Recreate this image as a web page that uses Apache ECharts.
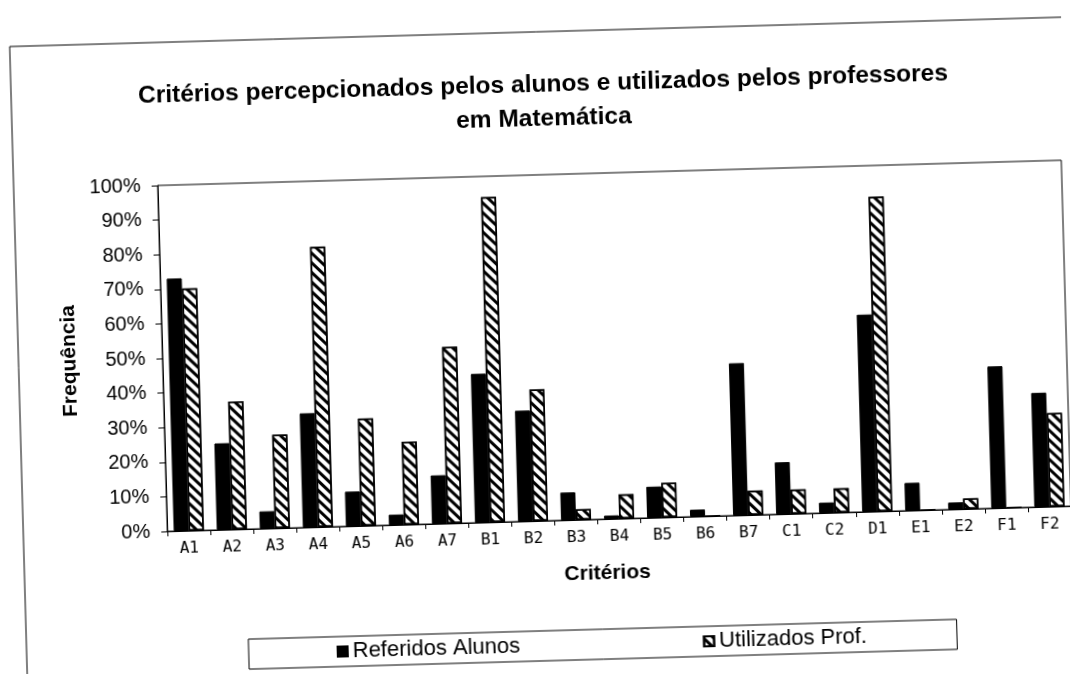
<!DOCTYPE html>
<html>
<head>
<meta charset="utf-8">
<script src="https://cdn.jsdelivr.net/npm/echarts@6/dist/echarts.min.js"></script>
<style>
  html, body { margin: 0; padding: 0; background: #fff; overflow: hidden; }
  /* the scanned page is slightly tilted */
  #main { width: 1070px; height: 674px; transform: rotate(-1.6deg); transform-origin: 535px 337px; }
</style>
</head>
<body>
<div id="main"></div>
<script>
const categories = ['A1','A2','A3','A4','A5','A6','A7','B1','B2','B3','B4','B5','B6','B7','C1','C2','D1','E1','E2','F1','F2'];
const referidosAlunos = [73, 25, 5, 33, 10, 3, 14, 43, 32, 8, 1, 9, 2, 44, 15, 3, 57, 8, 2, 41, 33];
const utilizadosProf = [70, 37, 27, 81, 31, 24, 51, 94, 38, 3, 7, 10, 0, 7, 7, 7, 91, 0, 3, 0, 27];
const yTicks = [0, 10, 20, 30, 40, 50, 60, 70, 80, 90, 100];

const font = 'Liberation Sans, Arial, sans-serif';

const chart = echarts.init(document.getElementById('main'));
chart.setOption({
  animation: false,
  backgroundColor: '#fff',
  title: {
    text: 'Critérios percepcionados pelos alunos e utilizados pelos professores\nem Matemática',
    left: 545,
    top: 63,
    textAlign: 'center',
    textStyle: { fontFamily: font, fontSize: 24.5, fontWeight: 'bold', color: '#000', lineHeight: 34 }
  },
  graphic: [{
    type: 'rect',
    shape: { x: 18, y: 32, width: 1200, height: 800 },
    style: { fill: 'none', stroke: '#000', lineWidth: 1 },
    silent: true
  }],
  legend: {
    left: 240,
    top: 631,
    orient: 'horizontal',
    icon: 'rect',
    itemWidth: 10,
    itemHeight: 10,
    itemGap: 183,
    padding: [4, 90, 4, 88],
    borderColor: '#000',
    borderWidth: 1,
    textStyle: { fontFamily: font, fontSize: 22, color: '#000' },
    data: ['Referidos Alunos', 'Utilizados Prof.']
  },
  grid: {
    left: 162, top: 175, width: 904, height: 346,
    show: true, borderColor: '#000', borderWidth: 1, backgroundColor: '#fff'
  },
  xAxis: {
    type: 'category',
    data: categories,
    name: 'Critérios',
    nameLocation: 'middle',
    nameGap: 44,
    nameTextStyle: { fontFamily: font, fontSize: 21, fontWeight: 'bold', color: '#000', padding: [0, 26, 0, 0] },
    axisLine: { lineStyle: { color: '#000', width: 1 } },
    axisTick: { show: true, length: 5, lineStyle: { color: '#000' } },
    axisLabel: { margin: 10, fontFamily: 'DejaVu Sans Mono, monospace', fontSize: 16, color: '#000' }
  },
  yAxis: {
    type: 'value',
    min: 0,
    max: 100,
    interval: 10,
    name: 'Frequência',
    nameLocation: 'middle',
    nameRotate: 90,
    nameGap: 82,
    nameTextStyle: { fontFamily: font, fontSize: 21, fontWeight: 'bold', color: '#000' },
    splitLine: { show: false },
    axisLine: { show: true, lineStyle: { color: '#000', width: 1 } },
    axisTick: { show: true, length: 6, lineStyle: { color: '#000' } },
    axisLabel: {
      margin: 17, fontFamily: font, fontSize: 20, color: '#000',
      formatter: v => yTicks.includes(v) ? v + '%' : ''
    }
  },
  series: [
    {
      name: 'Referidos Alunos',
      type: 'bar',
      data: referidosAlunos,
      barGap: '0%',
      barCategoryGap: '30%',
      itemStyle: { color: '#000', borderColor: '#000', borderWidth: 1 }
    },
    {
      name: 'Utilizados Prof.',
      type: 'bar',
      data: utilizadosProf,
      barGap: '0%',
      barCategoryGap: '30%',
      itemStyle: {
        color: '#fff',
        borderColor: '#000',
        borderWidth: 1.5,
        decal: {
          symbol: 'rect',
          symbolSize: 1,
          color: '#000',
          dashArrayX: [1, 0],
          dashArrayY: [3, 4],
          rotation: Math.PI / 4
        }
      }
    }
  ]
});
</script>
</body>
</html>
